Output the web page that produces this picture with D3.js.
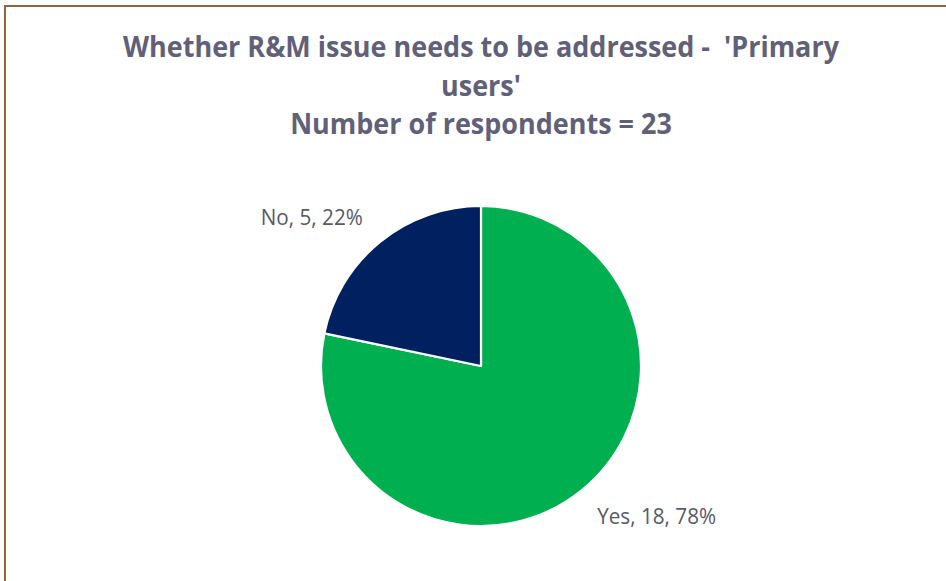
<!DOCTYPE html>
<html>
<head>
<meta charset="utf-8">
<script src="https://cdn.jsdelivr.net/npm/d3@7"></script>
<style>
  body { margin: 0; background: #fff; }
  text { white-space: pre; }
</style>
</head>
<body>
<script>
var width = 946, height = 581;

// data
var categories = ["Yes", "No"];
var counts = [18, 5];
var percents = ["78%", "22%"];
var colors = ["#00b050", "#002060"];
var titleLines = ["Whether R&M issue needs to be addressed -  'Primary", "users'", "Number of respondents = 23"];

var svg = d3.select("body")
            .append("svg")
            .attr("width", width)
            .attr("height", height);

// frame (only top and left are visible in the picture)
svg.append("rect")
   .attr("x", 5)
   .attr("y", 6)
   .attr("width", 980)
   .attr("height", 620)
   .attr("fill", "#fff")
   .attr("stroke", "#96643a")
   .attr("stroke-width", 2);

// title
var title = svg.append("g")
               .attr("font-family", "'Open Sans', sans-serif")
               .attr("font-weight", "bold")
               .attr("font-size", 28)
               .attr("fill", "#606079");

var titleRows = title.selectAll("text")
                     .data(titleLines)
                     .enter()
                     .append("text")
                     .attr("x", 481)
                     .attr("y", function(d, i) {return 57 + i * 38.5;})
                     .attr("text-anchor", "middle")
                     .text(function(d) {return d;});

// squeeze to look like the narrow original face
var nat = titleRows.nodes()[0].getComputedTextLength();
var squeeze = 716 / nat;
titleRows.each(function() {
    var w = this.getComputedTextLength();
    d3.select(this).attr("textLength", w * squeeze).attr("lengthAdjust", "spacingAndGlyphs");
});

// pie
var cx = 481, cy = 366, r = 160;
var slices = categories.map(function(c, i) {
    return {"name": c, "value": counts[i], "pct": percents[i], "color": colors[i]};
});

var pie = d3.pie().sort(null).value(function(d) {return d.value;});
var arc = d3.arc().innerRadius(0).outerRadius(r);
var labelArc = d3.arc().innerRadius(200).outerRadius(200);

var g = svg.append("g").attr("transform", "translate(" + cx + "," + cy + ")");

g.selectAll("path")
 .data(pie(slices))
 .enter()
 .append("path")
 .attr("d", arc)
 .attr("fill", function(d) {return d.data.color;})
 .attr("stroke", "#fff")
 .attr("stroke-width", 2.2)
 .attr("stroke-linejoin", "round");

var labels = g.selectAll("text.lbl")
              .data(pie(slices))
              .enter()
              .append("text")
              .attr("class", "lbl")
              .attr("font-family", "'Open Sans', sans-serif")
              .attr("font-size", 21)
              .attr("fill", "#595968")
              .attr("text-anchor", function(d) {return (d.startAngle + d.endAngle) / 2 > Math.PI ? "end" : "start";})
              .attr("x", function(d) {
                  var c = labelArc.centroid(d);
                  return (d.startAngle + d.endAngle) / 2 > Math.PI ? c[0] + 8 : c[0] - 10;
              })
              .attr("y", function(d) {
                  var c = labelArc.centroid(d);
                  return (d.startAngle + d.endAngle) / 2 > Math.PI ? c[1] + 14 : c[1] + 3;
              })
              .text(function(d) {return d.data.name + ", " + d.data.value + ", " + d.data.pct;});

var labSqueeze = 102 / labels.nodes()[1].getComputedTextLength();
labels.each(function() {
    var w = this.getComputedTextLength();
    d3.select(this).attr("textLength", w * labSqueeze).attr("lengthAdjust", "spacingAndGlyphs");
});
</script>
</body>
</html>
